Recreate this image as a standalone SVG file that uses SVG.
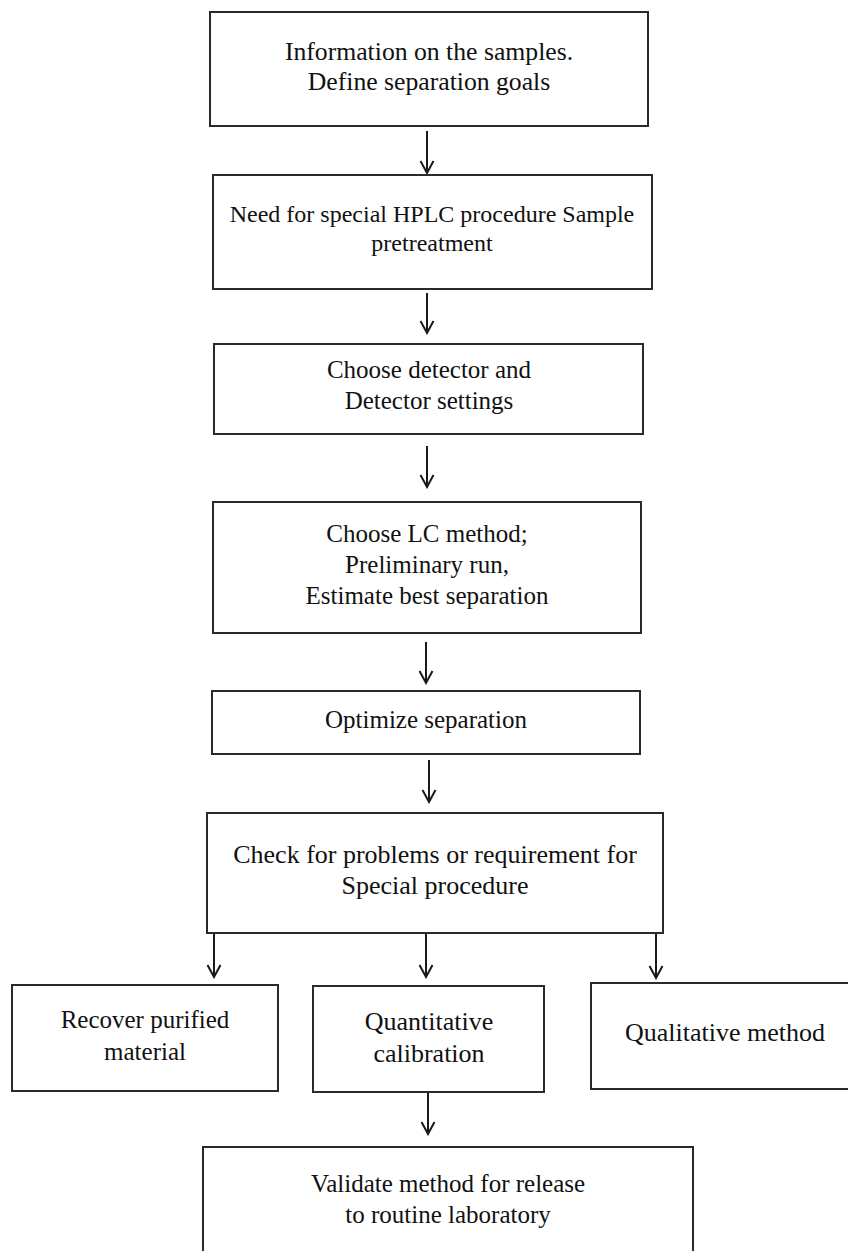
<svg xmlns="http://www.w3.org/2000/svg" width="848" height="1251" viewBox="0 0 848 1251">
  <style>
    .box { fill: #ffffff; stroke: #2a2a2a; stroke-width: 2; }
    .lbl { font-family: "Liberation Serif", "Times New Roman", serif; font-size: 25px; fill: #111111; text-anchor: middle; }
    .conn { stroke: #1a1a1a; stroke-width: 2; fill: none; }
  </style>
  <defs>
    <marker id="ah" viewBox="0 0 16 16" markerWidth="16" markerHeight="16" refX="14" refY="8" orient="auto" markerUnits="userSpaceOnUse">
      <path d="M2,1.5 L14,8 L2,14.5" fill="none" stroke="#1a1a1a" stroke-width="2"/>
    </marker>
  </defs>
  <rect width="848" height="1251" fill="#ffffff"/>

  <g id="connectors">
    <line class="conn" x1="427" y1="131" x2="427" y2="173" marker-end="url(#ah)"/>
    <line class="conn" x1="427" y1="293" x2="427" y2="333" marker-end="url(#ah)"/>
    <line class="conn" x1="427" y1="446" x2="427" y2="487" marker-end="url(#ah)"/>
    <line class="conn" x1="426" y1="642" x2="426" y2="683" marker-end="url(#ah)"/>
    <line class="conn" x1="429" y1="760" x2="429" y2="802" marker-end="url(#ah)"/>
    <line class="conn" x1="214" y1="933" x2="214" y2="977" marker-end="url(#ah)"/>
    <line class="conn" x1="426" y1="933" x2="426" y2="977" marker-end="url(#ah)"/>
    <line class="conn" x1="656" y1="933" x2="656" y2="978" marker-end="url(#ah)"/>
    <line class="conn" x1="428" y1="1092" x2="428" y2="1134" marker-end="url(#ah)"/>
  </g>

  <g id="n1">
    <rect class="box" x="210" y="12" width="438" height="114"/>
    <text class="lbl" x="429" y="60" style="font-size:25.7px">Information on the samples.</text>
    <text class="lbl" x="429" y="90" style="font-size:25.7px">Define separation goals</text>
  </g>
  <g id="n2">
    <rect class="box" x="213" y="175" width="439" height="114"/>
    <text class="lbl" x="432" y="222" style="font-size:24px">Need for special HPLC procedure Sample</text>
    <text class="lbl" x="432" y="251" style="font-size:24px">pretreatment</text>
  </g>
  <g id="n3">
    <rect class="box" x="214" y="344" width="429" height="90"/>
    <text class="lbl" x="429" y="378">Choose detector and</text>
    <text class="lbl" x="429" y="409">Detector settings</text>
  </g>
  <g id="n4">
    <rect class="box" x="213" y="502" width="428" height="131"/>
    <text class="lbl" x="427" y="542">Choose LC method;</text>
    <text class="lbl" x="427" y="573">Preliminary run,</text>
    <text class="lbl" x="427" y="604">Estimate best separation</text>
  </g>
  <g id="n5">
    <rect class="box" x="212" y="691" width="428" height="63"/>
    <text class="lbl" x="426" y="728">Optimize separation</text>
  </g>
  <g id="n6">
    <rect class="box" x="207" y="813" width="456" height="120"/>
    <text class="lbl" x="435" y="863" style="font-size:26px">Check for problems or requirement for</text>
    <text class="lbl" x="435" y="894" style="font-size:26px">Special procedure</text>
  </g>
  <g id="n7">
    <rect class="box" x="12" y="985" width="266" height="106"/>
    <text class="lbl" x="145" y="1028">Recover purified</text>
    <text class="lbl" x="145" y="1060">material</text>
  </g>
  <g id="n8">
    <rect class="box" x="313" y="986" width="231" height="106"/>
    <text class="lbl" x="429" y="1030" style="font-size:26px">Quantitative</text>
    <text class="lbl" x="429" y="1062" style="font-size:26px">calibration</text>
  </g>
  <g id="n9">
    <rect class="box" x="591" y="983" width="262" height="106"/>
    <text class="lbl" x="725" y="1041" style="font-size:26px">Qualitative method</text>
  </g>
  <g id="n10">
    <rect class="box" x="203" y="1147" width="490" height="110"/>
    <text class="lbl" x="448" y="1192">Validate method for release</text>
    <text class="lbl" x="448" y="1223">to routine laboratory</text>
  </g>
</svg>
